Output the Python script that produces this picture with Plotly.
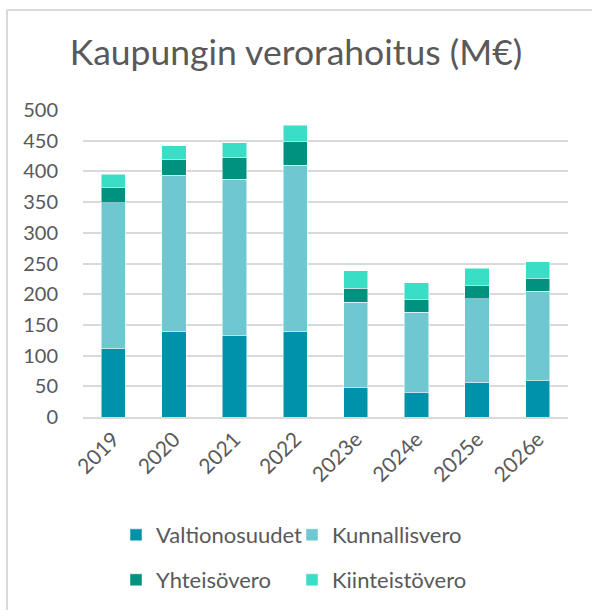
import plotly.graph_objects as go

years = ["2019", "2020", "2021", "2022", "2023e", "2024e", "2025e", "2026e"]
valtionosuudet = [112, 140, 132, 140, 48, 40, 57, 59]
kunnallisvero = [237, 254, 255, 270, 139, 131, 136, 146]
yhteisovero = [24, 26, 36, 38, 23, 20, 21, 20]
kiinteistovero = [22, 22, 24, 27, 28, 28, 28, 28]
y_ticks = [0, 50, 100, 150, 200, 250, 300, 350, 400, 450, 500]

series = [
    ("Valtionosuudet", valtionosuudet, "#0092AA", "legend"),
    ("Kunnallisvero", kunnallisvero, "#6FC8D1", "legend"),
    ("Yhteisövero", yhteisovero, "#00917F", "legend2"),
    ("Kiinteistövero", kiinteistovero, "#3ADDC5", "legend2"),
]

FONT = "Lato, 'Open Sans', sans-serif"
TXT = "#595959"

fig = go.Figure()
for name, vals, col, lg in series:
    fig.add_trace(go.Bar(
        x=years, y=vals, name=name, legend=lg,
        marker=dict(color=col, line=dict(width=0.5, color="white")),
        hoverinfo="skip",
    ))

L, R, T, B = 83, 24, 110, 193
W, H = 592, 610
pw, ph = W - L - R, H - T - B

def px_x(x):
    return (x - L) / pw

def px_y(y):
    return (H - B - y) / ph

leg_common = dict(orientation="h", xanchor="left", yanchor="top", traceorder="normal",
                  entrywidth=131, entrywidthmode="pixels",
                  font=dict(size=22, color=TXT),
                  itemclick=False, itemdoubleclick=False)

fig.update_layout(
    width=W, height=H,
    margin=dict(l=L, r=R, t=T, b=B, autoexpand=False),
    barmode="stack", bargap=0.6,
    paper_bgcolor="white", plot_bgcolor="white",
    font=dict(family=FONT, color=TXT, size=19),
    title=dict(text="Kaupungin verorahoitus (M€)", x=0.5, xanchor="center",
               y=1 - 53 / H, yanchor="middle",
               font=dict(family=FONT, size=35.5, color=TXT)),
    xaxis=dict(tickangle=-45, tickfont=dict(size=21, color=TXT), automargin=False,
               showgrid=False, showline=True, linecolor="#D9D9D9", linewidth=1.5,
               ticks="", fixedrange=True),
    yaxis=dict(range=[0, 500], tickvals=y_ticks, tickfont=dict(size=20, color=TXT),
               automargin=False, ticklabelstandoff=24,
               showgrid=True, gridcolor="#D9D9D9", gridwidth=1.5,
               zeroline=False, ticks="", fixedrange=True),
    legend=dict(x=px_x(116), y=px_y(514), **leg_common),
    legend2=dict(x=px_x(116), y=px_y(559), **leg_common),
    showlegend=True,
    shapes=[
        dict(type="line", xref="paper", yref="paper", x0=px_x(7), x1=px_x(7),
             y0=px_y(610), y1=px_y(10), line=dict(color="#D9D9D9", width=2)),
        dict(type="line", xref="paper", yref="paper", x0=px_x(7), x1=px_x(592),
             y0=px_y(10), y1=px_y(10), line=dict(color="#D9D9D9", width=2)),
    ],
)

fig.write_html("out.html", config={"displayModeBar": False},
               post_script="document.body.style.margin='0';document.body.style.overflow='hidden';")
